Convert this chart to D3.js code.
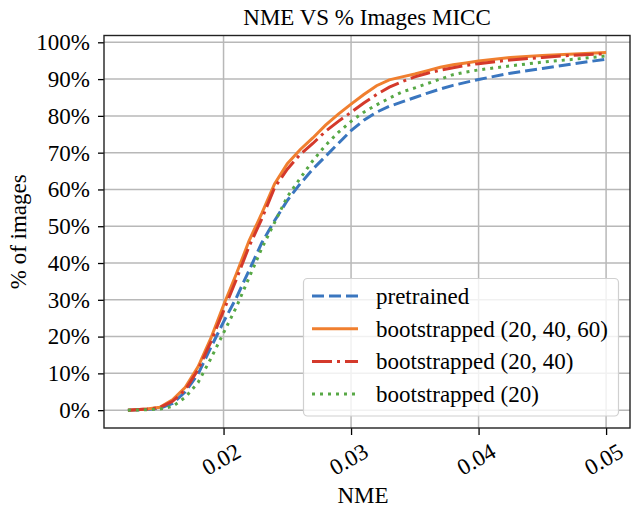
<!DOCTYPE html>
<html>
<head>
<meta charset="utf-8">
<script src="https://cdn.jsdelivr.net/npm/d3@7"></script>
<style>
  body { margin: 0; background: #fff; }
  text { font-family: "Liberation Serif", "Times New Roman", serif; fill: #000; }
</style>
</head>
<body>
<div class="chart"></div>
<script>
// NME thresholds (x) and % of images under each threshold
const nme = [0.0125, 0.014, 0.015, 0.016, 0.017, 0.018, 0.019, 0.020, 0.021, 0.022,
             0.023, 0.024, 0.025, 0.026, 0.027, 0.028, 0.029, 0.030, 0.031, 0.032,
             0.033, 0.034, 0.035, 0.036, 0.037, 0.038, 0.039, 0.040, 0.0425, 0.045,
             0.0475, 0.050];

const pretrained = [0, 0.2, 0.5, 1.8, 5, 9.8, 17, 24, 30.5, 38,
                    45.5, 51.5, 57, 61.5, 65.5, 69, 72.5, 76, 78.8, 81,
                    82.6, 83.8, 85, 86.2, 87.3, 88.3, 89.1, 89.9, 91.6, 92.9,
                    94.2, 95.4];
const boot204060 = [0, 0.3, 0.8, 2.8, 6.2, 11.8, 19.5, 28.5, 37, 46,
                    53.5, 61.5, 67, 70.8, 74, 77.5, 80.5, 83.2, 85.8, 88.2,
                    89.8, 90.6, 91.4, 92.3, 93.2, 93.9, 94.4, 94.9, 95.9, 96.4,
                    96.8, 97.2];
const boot2040 = [0, 0.3, 0.7, 2.4, 5.5, 11, 18.5, 27, 35.5, 44.5,
                  52, 60.5, 65.5, 69.5, 72.5, 75.8, 78.5, 81, 83.5, 85.8,
                  87.8, 89.3, 90.6, 91.6, 92.4, 93.1, 93.7, 94.2, 95.2, 95.9,
                  96.5, 96.9];
const boot20 = [0, 0.1, 0.3, 1.0, 3.5, 7.5, 14, 21, 28, 36,
                44, 51, 58, 63, 67.8, 72, 75.5, 78.5, 81, 83,
                84.8, 86.5, 87.6, 88.8, 90, 91.2, 91.9, 92.5, 93.6, 94.6,
                95.4, 96.3];

const xTicks = [0.02, 0.03, 0.04, 0.05];
const yTicks = [0, 10, 20, 30, 40, 50, 60, 70, 80, 90, 100];

const seriesNames = ["pretrained", "bootstrapped (20, 40, 60)", "bootstrapped (20, 40)", "bootstrapped (20)"];
const seriesData = [pretrained, boot204060, boot2040, boot20];
const colors = ["#3a76bf", "#f07f2f", "#d4392b", "#57a845"];
const dashes = ["12,5", null, "20,5,3,5", "3,5"];

// size
const W = 631, H = 508;
const pLeft = 104, pRight = 630, pTop = 35.5, pBottom = 428;
const fs = 23;

const svg = d3.select(".chart").append("svg")
    .attr("width", W).attr("height", H);

const x = d3.scaleLinear().domain([0.010625, 0.051875]).range([pLeft, pRight]);
const y = d3.scaleLinear().domain([-4.85, 101.85]).range([pBottom, pTop]);

// grid
svg.append("g").selectAll("line").data(xTicks).join("line")
    .attr("x1", d => x(d)).attr("x2", d => x(d))
    .attr("y1", pTop).attr("y2", pBottom)
    .attr("stroke", "#b8b8b8").attr("stroke-width", 1.5);
svg.append("g").selectAll("line").data(yTicks).join("line")
    .attr("x1", pLeft).attr("x2", pRight)
    .attr("y1", d => y(d)).attr("y2", d => y(d))
    .attr("stroke", "#b8b8b8").attr("stroke-width", 1.5);

// lines
const line = d3.line()
    .x((d, i) => x(nme[i]))
    .y(d => y(d));

seriesData.forEach(function(s, i) {
    svg.append("path")
        .datum(s)
        .attr("fill", "none")
        .attr("stroke", colors[i])
        .attr("stroke-width", 3)
        .attr("stroke-dasharray", dashes[i])
        .attr("d", line);
});

// axes
const xAxis = svg.append("g")
    .attr("transform", "translate(0," + pBottom + ")")
    .call(d3.axisBottom(x).tickValues(xTicks).tickSize(7).tickFormat(d3.format(".2f")));
xAxis.select(".domain").remove();
xAxis.selectAll("line").attr("stroke", "#000").attr("stroke-width", 1.3);
xAxis.selectAll("text")
    .attr("font-size", fs)
    .attr("text-anchor", "middle")
    .attr("y", 0).attr("dy", "0.35em")
    .attr("transform", "translate(-3,31) rotate(-30)");

const yAxis = svg.append("g")
    .attr("transform", "translate(" + pLeft + ",0)")
    .call(d3.axisLeft(y).tickValues(yTicks).tickSize(6).tickPadding(8).tickFormat(d => d + "%"));
yAxis.select(".domain").remove();
yAxis.selectAll("line").attr("stroke", "#000").attr("stroke-width", 1.3);
yAxis.selectAll("text").attr("font-size", fs);

// frame
svg.append("rect")
    .attr("x", pLeft).attr("y", pTop)
    .attr("width", pRight - pLeft).attr("height", pBottom - pTop)
    .attr("fill", "none").attr("stroke", "#222").attr("stroke-width", 1.4);

// legend
const lg = svg.append("g");
lg.append("rect")
    .attr("x", 303.5).attr("y", 278.5)
    .attr("width", 315).attr("height", 137.5)
    .attr("rx", 4)
    .attr("fill", "#fff").attr("fill-opacity", 0.8)
    .attr("stroke", "#d0d0d0").attr("stroke-width", 1.2);

seriesNames.forEach(function(name, i) {
    const ly = 296 + i * 32.7;
    lg.append("line")
        .attr("x1", 312).attr("x2", 358)
        .attr("y1", ly).attr("y2", ly)
        .attr("stroke", colors[i]).attr("stroke-width", 3)
        .attr("stroke-dasharray", dashes[i]);
    lg.append("text")
        .attr("x", 376).attr("y", ly)
        .attr("dy", "0.35em")
        .attr("font-size", fs)
        .text(name);
});

// titles
svg.append("text")
    .attr("x", (pLeft + pRight) / 2).attr("y", 25)
    .attr("text-anchor", "middle").attr("font-size", fs)
    .text("NME VS % Images MICC");

svg.append("text")
    .attr("x", (pLeft + pRight) / 2 - 4).attr("y", 503)
    .attr("text-anchor", "middle").attr("font-size", fs)
    .text("NME");

svg.append("text")
    .attr("transform", "translate(26," + (pTop + pBottom) / 2 + ") rotate(-90)")
    .attr("text-anchor", "middle").attr("font-size", fs)
    .text("% of images");
</script>
</body>
</html>
